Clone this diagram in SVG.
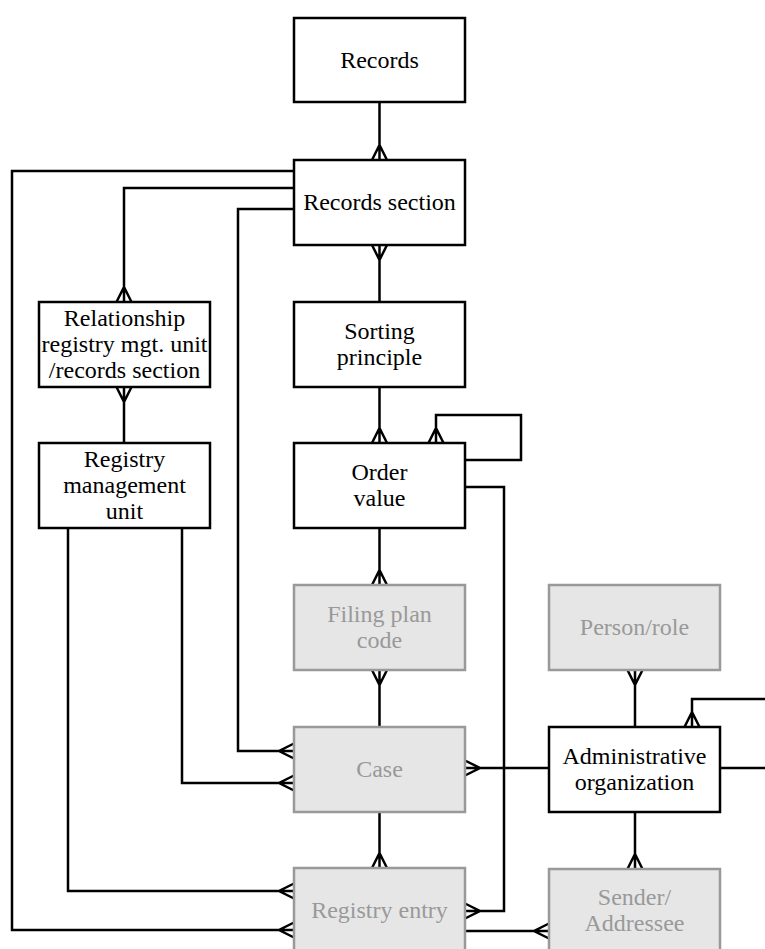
<svg xmlns="http://www.w3.org/2000/svg" width="765" height="949" viewBox="0 0 765 949">
<style>
.box{fill:#ffffff;stroke:#000000;stroke-width:2.5}
.gbox{fill:#e6e6e6;stroke:#999999;stroke-width:2.5}
.t{font-family:'Liberation Serif','Tinos','DejaVu Serif',serif;font-size:24px;fill:#000000;text-anchor:middle}
.gt{font-family:'Liberation Serif','Tinos','DejaVu Serif',serif;font-size:24px;fill:#999999;text-anchor:middle}
.c{fill:none;stroke:#000000;stroke-width:2.5;stroke-linejoin:miter}
</style>
<rect width="765" height="949" fill="#ffffff"/>
<g id="connectors">
<path class="c" d="M379.5,102 V160 M372,160 L379.5,145 L387,160"/>
<path class="c" d="M379.5,245 V302 M372,245 L379.5,260 L387,245"/>
<path class="c" d="M379.5,387 V443 M372,443 L379.5,428 L387,443"/>
<path class="c" d="M436,443 V415 H521 V460 H465 M428.5,443 L436,428 L443.5,443"/>
<path class="c" d="M465,487 H504 V911 H465 M465,903.5 L480,911 L465,918.5"/>
<path class="c" d="M379.5,528 V585 M372,585 L379.5,570 L387,585"/>
<path class="c" d="M379.5,670 V727 M372,670 L379.5,685 L387,670"/>
<path class="c" d="M379.5,812 V868 M372,868 L379.5,853 L387,868"/>
<path class="c" d="M294,188 H124 V302 M116.5,302 L124,287 L131.5,302"/>
<path class="c" d="M124,387 V443 M116.5,387 L124,402 L131.5,387"/>
<path class="c" d="M294,171 H12 V930 H294 M294,922.5 L279,930 L294,937.5"/>
<path class="c" d="M294,209 H238 V751 H294 M294,743.5 L279,751 L294,758.5"/>
<path class="c" d="M182,528 V783 H294 M294,775.5 L279,783 L294,790.5"/>
<path class="c" d="M68,528 V891 H294 M294,883.5 L279,891 L294,898.5"/>
<path class="c" d="M465,768 H549 M465,760.5 L480,768 L465,775.5"/>
<path class="c" d="M720,768 H765"/>
<path class="c" d="M692,727 V699 H765 M684.5,727 L692,712 L699.5,727"/>
<path class="c" d="M635,670 V727 M627.5,670 L635,685 L642.5,670"/>
<path class="c" d="M635,812 V869 M627.5,869 L635,854 L642.5,869"/>
<path class="c" d="M465,931 H549 M549,923.5 L534,931 L549,938.5"/>
</g>
<g id="records">
<rect class="box" x="294" y="18" width="171" height="84"/>
<text class="t" x="379.5" y="68" font-family="Liberation Serif">Records</text>
</g>
<g id="records-section">
<rect class="box" x="294" y="160" width="171" height="85"/>
<text class="t" x="379.5" y="210">Records section</text>
</g>
<g id="sorting-principle">
<rect class="box" x="294" y="302" width="171" height="85"/>
<text class="t" x="379.5" y="339">Sorting</text>
<text class="t" x="379.5" y="365">principle</text>
</g>
<g id="order-value">
<rect class="box" x="294" y="443" width="171" height="85"/>
<text class="t" x="379.5" y="480">Order</text>
<text class="t" x="379.5" y="506">value</text>
</g>
<g id="relationship">
<rect class="box" x="39" y="302" width="171" height="85"/>
<text class="t" x="124.5" y="326">Relationship</text>
<text class="t" x="124.5" y="352">registry mgt. unit</text>
<text class="t" x="124.5" y="378">/records section</text>
</g>
<g id="registry-management-unit">
<rect class="box" x="39" y="443" width="171" height="85"/>
<text class="t" x="124.5" y="467">Registry</text>
<text class="t" x="124.5" y="493">management</text>
<text class="t" x="124.5" y="519">unit</text>
</g>
<g id="filing-plan-code">
<rect class="gbox" x="294" y="585" width="171" height="85"/>
<text class="gt" x="379.5" y="622">Filing plan</text>
<text class="gt" x="379.5" y="648">code</text>
</g>
<g id="case">
<rect class="gbox" x="294" y="727" width="171" height="85"/>
<text class="gt" x="379.5" y="777">Case</text>
</g>
<g id="registry-entry">
<rect class="gbox" x="294" y="868" width="171" height="86"/>
<text class="gt" x="379.5" y="918">Registry entry</text>
</g>
<g id="person-role">
<rect class="gbox" x="549" y="585" width="171" height="85"/>
<text class="gt" x="634.5" y="635">Person/role</text>
</g>
<g id="administrative-organization">
<rect class="box" x="549" y="727" width="171" height="85"/>
<text class="t" x="634.5" y="764">Administrative</text>
<text class="t" x="634.5" y="790">organization</text>
</g>
<g id="sender-addressee">
<rect class="gbox" x="549" y="869" width="171" height="85"/>
<text class="gt" x="634.5" y="905">Sender/</text>
<text class="gt" x="634.5" y="931">Addressee</text>
</g>
</svg>
